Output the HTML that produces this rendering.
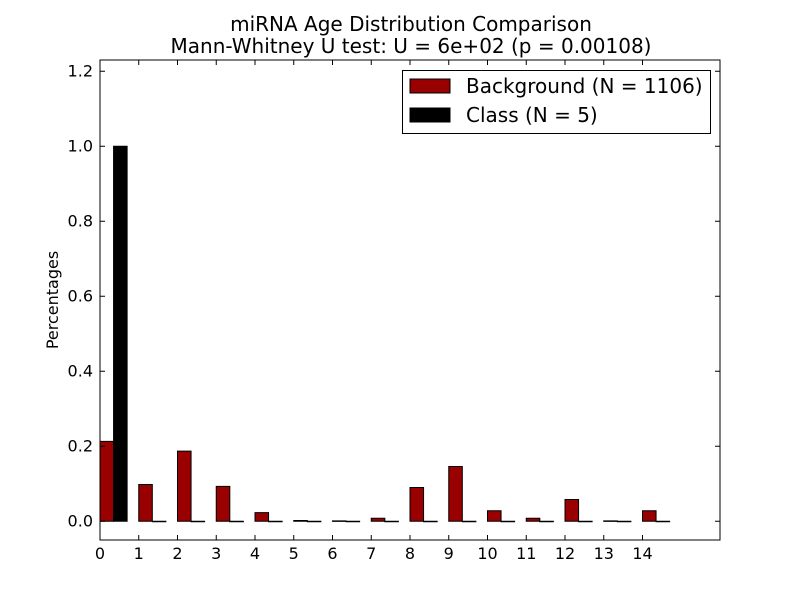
<!DOCTYPE html>
<html><head><meta charset="utf-8"><style>
body{margin:0;background:#fff;}
svg{display:block;font-family:"DejaVu Sans","Liberation Sans",sans-serif;}
</style></head><body>
<svg id="chart" width="800" height="600">
<rect width="800" height="600" fill="#fff"/>
<text x="411" y="31" text-anchor="middle" font-size="20">miRNA Age Distribution Comparison</text>
<text x="411" y="53" text-anchor="middle" font-size="20">Mann-Whitney U test: U = 6e+02 (p = 0.00108)</text>
<text transform="translate(58,300) rotate(-90)" text-anchor="middle" font-size="16">Percentages</text>
<g id="marks"></g>
<g id="axes"></g>
<rect x="100" y="60" width="620" height="480" fill="none" stroke="#000" stroke-width="1"/>
<g>
<rect x="402.5" y="70.5" width="308" height="63" fill="#fff" stroke="#000"/>
<g><rect x="410" y="79" width="40" height="14" fill="#990000" stroke="#000"/><text x="466" y="93" font-size="20">Background (N = 1106)</text></g>
<g><rect x="410" y="108" width="40" height="14" fill="#000" stroke="#000"/><text x="466" y="122" font-size="20">Class (N = 5)</text></g>
</g>
</svg>
<script>
const categories=[0,1,2,3,4,5,6,7,8,9,10,11,12,13,14];
const backgroundValues=[0.213,0.098,0.187,0.093,0.023,0.002,0.001,0.008,0.090,0.146,0.028,0.008,0.058,0.001,0.028];
const classValues=[1,0,0,0,0,0,0,0,0,0,0,0,0,0,0];
const yTicks=[0.0,0.2,0.4,0.6,0.8,1.0,1.2];
const xTickLabels=["0","1","2","3","4","5","6","7","8","9","10","11","12","13","14"];
const NS="http://www.w3.org/2000/svg";
const X0=100,X1=720,Y0=540,Y1=60,xmin=0,xmax=16,ymin=-0.05,ymax=1.23;
const xs=v=>X0+(v-xmin)/(xmax-xmin)*(X1-X0);
const ys=v=>Y0-(v-ymin)/(ymax-ymin)*(Y0-Y1);
const W=0.35;
const marks=document.getElementById('marks'),axes=document.getElementById('axes');
function mk(t,a,p){const e=document.createElementNS(NS,t);for(const k in a)e.setAttribute(k,a[k]);p.appendChild(e);return e;}
categories.forEach((c,i)=>{
 let b=mk('rect',{x:xs(c),y:ys(backgroundValues[i]),width:xs(c+W)-xs(c),height:Math.max(ys(0)-ys(backgroundValues[i]),0.5),fill:'#990000',stroke:'#000','stroke-width':1},marks);
 
 
 let k=mk('rect',{x:xs(c+W),y:ys(classValues[i]),width:xs(c+2*W)-xs(c+W),height:Math.max(ys(0)-ys(classValues[i]),0.5),fill:'#000',stroke:'#000','stroke-width':1},marks);
 
 
});
yTicks.forEach(v=>{
 const y=ys(v);
 mk('line',{x1:X0,x2:X0+5,y1:y,y2:y,stroke:'#000'},axes);
 mk('line',{x1:X1,x2:X1-5,y1:y,y2:y,stroke:'#000'},axes);
 const t=mk('text',{x:X0-7,y:y+5,'text-anchor':'end','font-size':16},axes);
 t.textContent=v.toFixed(1);
 
 
});
categories.forEach((c,i)=>{
 const x=xs(c);
 mk('line',{x1:x,x2:x,y1:Y0,y2:Y0-5,stroke:'#000'},axes);
 mk('line',{x1:x,x2:x,y1:Y1,y2:Y1+5,stroke:'#000'},axes);
 const t=mk('text',{x:x,y:Y0+19,'text-anchor':'middle','font-size':16},axes);
 t.textContent=xTickLabels[i];
 
 
});
</script>
</body></html>
